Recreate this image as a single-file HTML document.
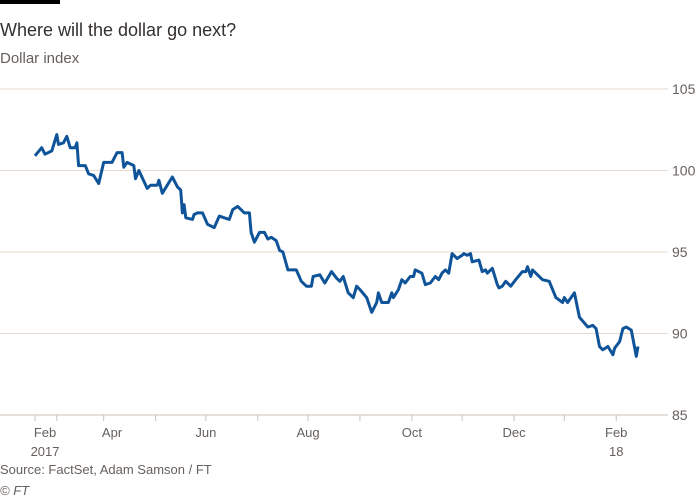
<!DOCTYPE html>
<html><head><meta charset="utf-8"><style>
body{margin:0;background:#fff;font-family:"Liberation Sans",sans-serif;}
#wrap{position:relative;width:700px;height:500px;overflow:hidden;}
</style></head><body>
<div id="wrap">
<svg id="chart" width="700" height="500">
<rect x="0" y="0" width="60" height="4" fill="#000"/>
<text x="0" y="36" font-size="18" fill="#33302e">Where will the dollar go next?</text>
<text x="0" y="63" font-size="15" fill="#66605c">Dollar index</text>
<g id="grid"></g><g id="xaxis"></g>
<path id="line" fill="none" stroke="#0f5499" stroke-width="3" stroke-linejoin="round"/>
<text x="0" y="474" font-size="13" fill="#66605c">Source: FactSet, Adam Samson / FT</text>
<text x="0" y="495" font-size="13" font-style="italic" fill="#66605c">© FT</text>
</svg></div>
<script>
const yTicks=[85,90,95,100,105];
const monthTicks=[13,41,72,102,133,163,194,225,255,286,316,347];
const monthLabels=["Feb","Apr","Jun","Aug","Oct","Dec","Feb"];
const monthLabelDays=[6,46,102,163,225,286,347];
const yearLabels=["2017","18"];
const yearLabelDays=[6,347];
const days=[0,4,6,10,13,14,17,19,21,24,25,26,30,32,35,38,41,46,49,52,53,55,59,60,62,67,69,73,74,76,82,85,87,88,89,90,94,95,97,100,103,107,110,113,116,118,121,125,128,129,131,134,137,139,141,144,146,148,151,156,159,162,165,166,170,173,177,180,182,184,187,190,192,194,198,201,204,205,207,211,213,214,217,219,221,224,226,227,231,233,236,239,241,243,245,247,249,252,255,256,258,260,261,265,267,269,270,273,276,277,279,281,284,287,291,293,294,296,297,300,303,307,311,315,316,318,322,325,330,333,335,337,339,342,345,346,349,351,353,356,359,360];
const values=[100.9,101.4,101.0,101.2,102.2,101.6,101.7,102.1,101.4,101.4,101.7,100.3,100.3,99.8,99.7,99.2,100.5,100.5,101.1,101.1,100.2,100.5,100.3,99.5,100.0,98.9,99.1,99.1,99.4,98.6,99.6,99.0,98.8,97.4,97.9,97.1,97.0,97.3,97.4,97.4,96.7,96.5,97.2,97.1,97.0,97.6,97.8,97.4,97.4,96.2,95.6,96.2,96.2,95.8,95.9,95.7,95.1,95.0,93.9,93.9,93.2,92.9,92.9,93.5,93.6,93.1,93.8,93.4,93.2,93.5,92.5,92.2,92.9,92.7,92.2,91.3,91.9,92.5,91.9,91.9,92.5,92.2,92.7,93.3,93.1,93.5,93.5,93.9,93.7,93.0,93.1,93.5,93.3,93.7,93.9,93.7,94.9,94.6,94.8,94.9,94.8,94.9,94.4,94.5,93.8,93.9,93.7,94.0,93.0,92.8,92.9,93.2,92.9,93.3,93.8,93.8,94.1,93.5,93.9,93.6,93.3,93.2,92.2,91.9,92.2,91.9,92.5,91.0,90.4,90.5,90.3,89.2,89.0,89.2,88.7,89.1,89.5,90.3,90.4,90.2,88.6,89.2];
const X=d=>35+d*1.675, Y=v=>89+(105-v)*16.3;
const NS="http://www.w3.org/2000/svg";
const grid=document.getElementById('grid'), xa=document.getElementById('xaxis');
function mk(tag,attrs,parent,txt){const e=document.createElementNS(NS,tag);for(const k in attrs)e.setAttribute(k,attrs[k]);if(txt!==undefined)e.textContent=txt;parent.appendChild(e);return e;}
yTicks.forEach(v=>{
 const l=mk('line',{x1:0,x2:668,y1:Y(v),y2:Y(v),stroke:v===85?'#ccc1b7':'#e6d9ce','stroke-width':1},grid);
 
 
 const t=mk('text',{x:672,y:Y(v)+5,'font-size':14,fill:'#66605c'},grid,String(v));
 
 
});
[0].concat(monthTicks).forEach(d=>{
 const l=mk('line',{x1:X(d),x2:X(d),y1:415,y2:421,stroke:'#ccc1b7'},xa);
 
 
});
monthLabels.forEach((s,i)=>{
 const t=mk('text',{x:X(monthLabelDays[i]),y:437,'font-size':13,fill:'#66605c','text-anchor':'middle'},xa,s);
 
 
});
yearLabels.forEach((s,i)=>{
 const t=mk('text',{x:X(yearLabelDays[i]),y:456,'font-size':13,fill:'#66605c','text-anchor':'middle'},xa,s);
 
 
});
document.getElementById('line').setAttribute('d',days.map((d,i)=>(i?'L':'M')+X(d).toFixed(1)+','+Y(values[i]).toFixed(1)).join(''));
</script>
</body></html>
